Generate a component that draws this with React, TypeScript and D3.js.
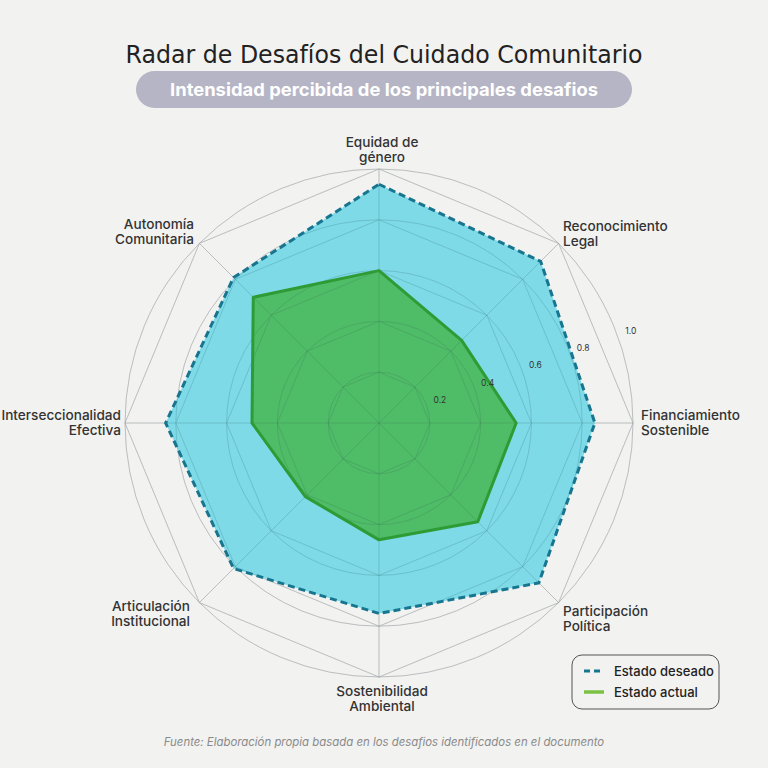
import React from "react";
import * as d3 from "d3";

const categories = [
  ["Equidad de", "género"],
  ["Reconocimiento", "Legal"],
  ["Financiamiento", "Sostenible"],
  ["Participación", "Política"],
  ["Sostenibilidad", "Ambiental"],
  ["Articulación", "Institucional"],
  ["Interseccionalidad", "Efectiva"],
  ["Autonomía", "Comunitaria"],
];
const desiredValues = [0.94, 0.9, 0.85, 0.89, 0.75, 0.81, 0.84, 0.81];
const actualValues = [0.6, 0.46, 0.54, 0.55, 0.46, 0.41, 0.5, 0.7];
const tickValues = [0.2, 0.4, 0.6, 0.8, 1.0];
const tickLabels = ["0.2", "0.4", "0.6", "0.8", "1.0"];
const seriesNames = ["Estado deseado", "Estado actual"];

const W = 768;
const H = 768;
const cx = 379;
const cy = 423;
const R = 254;
const FONT = "Inter, 'Noto Sans', sans-serif";

export default function App() {
  const r = d3.scaleLinear().domain([0, 1]).range([0, R]);
  const n = categories.length;
  const angle = d3
    .scaleLinear()
    .domain([0, n])
    .range([0, 2 * Math.PI]);

  const pt = (i: number, v: number): [number, number] => {
    const a = angle(i);
    return [cx + r(v) * Math.sin(a), cy - r(v) * Math.cos(a)];
  };

  const radial = d3
    .lineRadial<number>()
    .angle((_, i) => angle(i))
    .radius((v) => r(v))
    .curve(d3.curveLinearClosed);

  const gridColor = "#d2d2d2";

  const labelPos: { x: number; y: number; anchor: string }[] = [
    { x: 382, y: 147, anchor: "middle" },
    { x: 563, y: 231, anchor: "start" },
    { x: 641, y: 420, anchor: "start" },
    { x: 563, y: 616, anchor: "start" },
    { x: 382, y: 696, anchor: "middle" },
    { x: 190, y: 611, anchor: "end" },
    { x: 121, y: 420, anchor: "end" },
    { x: 194, y: 229, anchor: "end" },
  ];

  const tickAngle = (70 * Math.PI) / 180;

  const grid = (stroke: string, key: string) => (
    <g key={key}>
      <g transform={`translate(${cx},${cy})`} fill="none" stroke={stroke} strokeWidth={1}>
        {tickValues.map((t) => (
          <circle key={"c" + t} r={r(t)} />
        ))}
        {tickValues.map((t) => (
          <path key={"p" + t} d={radial(new Array(n).fill(t)) || ""} />
        ))}
      </g>
      {categories.map((_, i) => {
        const [x, y] = pt(i, 1);
        return <line key={"ax" + i} x1={cx} y1={cy} x2={x} y2={y} stroke={stroke} strokeWidth={1} />;
      })}
    </g>
  );

  return (
    <svg
      width={W}
      height={H}
      style={{ position: "absolute", left: 0, top: 0, background: "#f2f2f1" }}
    >
      <rect x={0} y={0} width={W} height={H} fill="#f2f2f1" />
      {/* Title */}
      <text
        x={384}
        y={63}
        textAnchor="middle"
        fontFamily="'DejaVu Sans', sans-serif"
        fontSize={24}
        fill="#222"
        textLength={517}
        lengthAdjust="spacingAndGlyphs"
      >
        Radar de Desafíos del Cuidado Comunitario
      </text>
      <rect x={136} y={71} width={496} height={37} rx={18.5} fill="#b5b5c5" />
      <text
        x={384}
        y={96}
        textAnchor="middle"
        fontFamily={FONT}
        fontWeight={700}
        fontSize={18}
        fill="#ffffff"
        textLength={428}
        lengthAdjust="spacingAndGlyphs"
      >
        Intensidad percibida de los principales desafios
      </text>

      {grid("#d2d2d2", "g1")}

      {/* Series */}
      <g transform={`translate(${cx},${cy})`}>
        <path d={radial(desiredValues) || ""} fill="#5fd3e3" fillOpacity={0.8} stroke="none" />
        <path d={radial(actualValues) || ""} fill="#45b44c" fillOpacity={0.82} stroke="none" />
      </g>

      {grid("rgba(40,60,70,0.13)", "g2")}

      <g transform={`translate(${cx},${cy})`}>
        <path
          d={radial(desiredValues) || ""}
          fill="none"
          stroke="#17758f"
          strokeWidth={3}
          strokeDasharray="7,4"
        />
        <path
          d={radial(actualValues) || ""}
          fill="none"
          stroke="#2e9b35"
          strokeWidth={3}
          strokeLinejoin="round"
        />
      </g>

      {/* Tick labels */}
      {tickValues.map((t, i) => {
        const rr = r(t) + 14;
        return (
          <text
            key={"t" + t}
            x={cx + rr * Math.sin(tickAngle)}
            y={cy - rr * Math.cos(tickAngle)}
            textAnchor="middle"
            dominantBaseline="middle"
            fontFamily={FONT}
            fontSize={8.5}
            fill="#333"
          >
            {tickLabels[i]}
          </text>
        );
      })}

      {/* Axis labels */}
      {categories.map((lines, i) => (
        <text
          key={"l" + i}
          x={labelPos[i].x}
          y={labelPos[i].y}
          textAnchor={labelPos[i].anchor as any}
          fontFamily={FONT}
          fontSize={13.6}
          fontWeight={500}
          fill="#333"
        >
          {lines.map((ln, j) => (
            <tspan key={j} x={labelPos[i].x} dy={j === 0 ? 0 : 14.5}>
              {ln}
            </tspan>
          ))}
        </text>
      ))}

      {/* Legend */}
      <rect x={572} y={655} width={147} height={54} rx={10} fill="none" stroke="#555" strokeWidth={1} />
      <line x1={584} y1={671} x2={604} y2={671} stroke="#17758f" strokeWidth={3} strokeDasharray="6,4" />
      <text x={614} y={675.5} fontFamily={FONT} fontSize={13} fontWeight={500} fill="#222">
        {seriesNames[0]}
      </text>
      <line x1={584} y1={692} x2={604} y2={692} stroke="#7cc242" strokeWidth={3.5} />
      <text x={614} y={696.5} fontFamily={FONT} fontSize={13} fontWeight={500} fill="#222">
        {seriesNames[1]}
      </text>

      {/* Footer */}
      <text
        x={384}
        y={746}
        textAnchor="middle"
        fontFamily={FONT}
        fontStyle="italic"
        fontSize={11.4}
        fill="#8a8a8a"
      >
        Fuente: Elaboración propia basada en los desafios identificados en el documento
      </text>
    </svg>
  );
}
